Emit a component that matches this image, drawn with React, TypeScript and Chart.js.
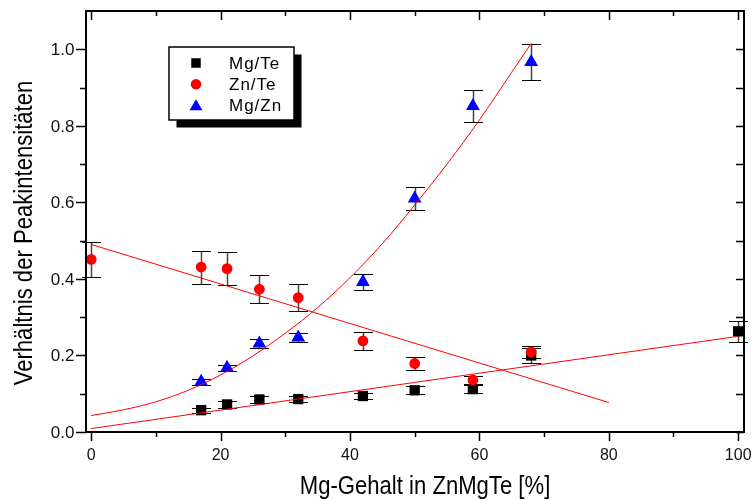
import React, { useEffect, useRef } from "react";
import { Chart, registerables } from "chart.js";

Chart.register(...registerables);

// ---- data ----
const mgTeX = [17, 21, 26, 32, 42, 50, 59, 68, 100];
const mgTeY = [0.057, 0.072, 0.085, 0.086, 0.094, 0.109, 0.112, 0.2, 0.263];
const mgTeErr = [0.007, 0.008, 0.01, 0.008, 0.008, 0.011, 0.01, 0.02, 0.027];

const znTeX = [0, 17, 21, 26, 32, 42, 50, 59, 68];
const znTeY = [0.451, 0.431, 0.427, 0.373, 0.351, 0.238, 0.179, 0.136, 0.209];
const znTeErr = [0.045, 0.043, 0.043, 0.037, 0.035, 0.024, 0.018, 0.01, 0.016];

const mgZnX = [17, 21, 26, 32, 42, 50, 59, 68];
const mgZnY = [0.131, 0.168, 0.231, 0.247, 0.392, 0.61, 0.852, 0.967];
const mgZnErr = [0.007, 0.008, 0.012, 0.012, 0.02, 0.031, 0.042, 0.048];

const fitMgTeX = [0, 100];
const fitMgTeY = [0.009, 0.25];
const fitZnTeX = [0, 80];
const fitZnTeY = [0.49, 0.077];
const fitMgZnX = [0, 5, 10, 15, 20, 25, 30, 35, 40, 45, 50, 55, 60, 65, 68];
const fitMgZnY = [0.043, 0.058, 0.079, 0.109, 0.149, 0.199, 0.258, 0.325, 0.403, 0.492, 0.593, 0.7, 0.815, 0.94, 1.015];

const seriesLabels = ["Mg/Te", "Zn/Te", "Mg/Zn"];
const seriesColors = ["#000000", "#ff0000", "#0000ff"];

const xMajor = [0, 20, 40, 60, 80, 100];
const xMinor = [10, 30, 50, 70, 90];
const xTickLabels = ["0", "20", "40", "60", "80", "100"];
const yMajor = [0, 0.2, 0.4, 0.6, 0.8, 1.0];
const yMinor = [0.1, 0.3, 0.5, 0.7, 0.9];
const yTickLabels = ["0.0", "0.2", "0.4", "0.6", "0.8", "1.0"];

const xTitle = "Mg-Gehalt in ZnMgTe [%]";
const yTitle = "Verhältnis der Peakintensitäten";

const pts = (xs: number[], ys: number[]) => xs.map((x, i) => ({ x, y: ys[i] }));

function drawSymbol(ctx: CanvasRenderingContext2D, kind: number, cx: number, cy: number, s: number) {
  ctx.fillStyle = seriesColors[kind];
  ctx.beginPath();
  if (kind === 0) {
    ctx.rect(cx - s / 2, cy - s / 2, s, s);
  } else if (kind === 1) {
    ctx.arc(cx, cy, s / 2, 0, Math.PI * 2);
  } else {
    const h = s * 0.866;
    ctx.moveTo(cx, cy - h / 2 - 0.5);
    ctx.lineTo(cx + s / 2 + 0.5, cy + h / 2);
    ctx.lineTo(cx - s / 2 - 0.5, cy + h / 2);
    ctx.closePath();
  }
  ctx.fill();
}

const framePlugin = {
  id: "originFrame",
  beforeDatasetsDraw(chart: any) {
    const { ctx, scales } = chart;
    const x = scales.x;
    const y = scales.y;
    const series: [number[], number[], number[]][] = [
      [mgTeX, mgTeY, mgTeErr],
      [znTeX, znTeY, znTeErr],
      [mgZnX, mgZnY, mgZnErr],
    ];
    ctx.save();
    for (const [xs, ys, es] of series) {
      xs.forEach((xv, i) => {
        const px = Math.round(x.getPixelForValue(xv)) + 0.5;
        const top = Math.round(y.getPixelForValue(ys[i] + es[i])) + 0.5;
        const bot = Math.round(y.getPixelForValue(ys[i] - es[i])) + 0.5;
        ctx.strokeStyle = "#444";
        ctx.lineWidth = 1.5;
        ctx.beginPath();
        ctx.moveTo(px, top);
        ctx.lineTo(px, bot);
        ctx.stroke();
        ctx.strokeStyle = "#000";
        ctx.lineWidth = 1.2;
        ctx.beginPath();
        ctx.moveTo(px - 9.5, top);
        ctx.lineTo(px + 9.5, top);
        ctx.moveTo(px - 9.5, bot);
        ctx.lineTo(px + 9.5, bot);
        ctx.stroke();
      });
    }
    ctx.restore();
  },
  afterDraw(chart: any) {
    const { ctx, chartArea, scales } = chart;
    const x = scales.x;
    const y = scales.y;
    const { left, right, top, bottom } = chartArea;
    ctx.save();
    // frame
    ctx.strokeStyle = "#000";
    ctx.lineWidth = 2;
    ctx.strokeRect(left, top, right - left, bottom - top);
    // ticks
    ctx.lineWidth = 1.5;
    ctx.beginPath();
    const xt = (vals: number[], len: number) => {
      vals.forEach((v) => {
        const px = Math.round(x.getPixelForValue(v)) + 0.5;
        ctx.moveTo(px, bottom);
        ctx.lineTo(px, bottom + len);
        ctx.moveTo(px, top);
        ctx.lineTo(px, top + len);
      });
    };
    xt(xMajor, 9);
    xt(xMinor, 5);
    const yt = (vals: number[], len: number) => {
      vals.forEach((v) => {
        const py = Math.round(y.getPixelForValue(v)) + 0.5;
        ctx.moveTo(left, py);
        ctx.lineTo(left - len, py);
        ctx.moveTo(right, py);
        ctx.lineTo(right - 8, py);
      });
    };
    yt(yMajor, 10);
    yt(yMinor, 6);
    ctx.stroke();

    // tick labels
    ctx.fillStyle = "#111";
    ctx.font = '16px "Liberation Sans", Arial, sans-serif';
    ctx.textAlign = "center";
    ctx.textBaseline = "alphabetic";
    xMajor.forEach((v, i) => {
      ctx.fillText(xTickLabels[i], x.getPixelForValue(v), bottom + 27.5);
    });
    ctx.font = '17px "Liberation Sans", Arial, sans-serif';
    ctx.textAlign = "right";
    yMajor.forEach((v, i) => {
      ctx.fillText(yTickLabels[i], left - 11.5, y.getPixelForValue(v) + 6);
    });

    // axis titles (narrow)
    ctx.fillStyle = "#000";
    ctx.font = '26px "Liberation Sans", Arial, sans-serif';
    ctx.textAlign = "center";
    ctx.save();
    ctx.translate(425, 494);
    ctx.scale(0.85, 1);
    ctx.fillText(xTitle, 0, 0);
    ctx.restore();
    ctx.save();
    ctx.translate(31.5, 233);
    ctx.rotate(-Math.PI / 2);
    ctx.scale(0.85, 1);
    ctx.fillText(yTitle, 0, 0);
    ctx.restore();

    // legend
    const bx = 169, by = 47, bw = 125, bh = 73, off = 7.5;
    ctx.fillStyle = "#000";
    ctx.fillRect(bx + off, by + off, bw, bh);
    ctx.fillStyle = "#fff";
    ctx.fillRect(bx, by, bw, bh);
    ctx.strokeStyle = "#000";
    ctx.lineWidth = 1.5;
    ctx.strokeRect(bx, by, bw, bh);
    const rows = [63, 84.3, 105];
    const sizes = [9.5, 10.5, 12];
    ctx.font = '17px "Liberation Sans", Arial, sans-serif';
    (ctx as any).letterSpacing = "1px";
    ctx.textAlign = "left";
    rows.forEach((ry, i) => {
      drawSymbol(ctx, i, 196, ry, sizes[i]);
      ctx.fillStyle = "#000";
      ctx.fillText(seriesLabels[i], 229, ry + 6);
    });
    (ctx as any).letterSpacing = "0px";
    ctx.restore();
  },
};

export default function App() {
  const ref = useRef<HTMLCanvasElement | null>(null);
  useEffect(() => {
    if (!ref.current) return;
    const lineDs = (label: string, xs: number[], ys: number[], cubic: boolean) => ({
      type: "line" as const,
      label,
      data: pts(xs, ys),
      borderColor: "#ff0000",
      borderWidth: 1,
      pointRadius: 0,
      fill: false,
      showLine: true,
      cubicInterpolationMode: cubic ? ("monotone" as const) : ("default" as const),
      tension: 0,
    });
    const chart = new Chart(ref.current, {
      type: "scatter",
      data: {
        datasets: [
          lineDs("fit Mg/Zn", fitMgZnX, fitMgZnY, true),
          lineDs("fit Zn/Te", fitZnTeX, fitZnTeY, false),
          lineDs("fit Mg/Te", fitMgTeX, fitMgTeY, false),
          {
            label: seriesLabels[2],
            data: pts(mgZnX, mgZnY),
            pointStyle: "triangle",
            pointRadius: 8,
            backgroundColor: seriesColors[2],
            borderColor: seriesColors[2],
            borderWidth: 0,
          },
          {
            label: seriesLabels[1],
            data: pts(znTeX, znTeY),
            pointStyle: "circle",
            pointRadius: 5.4,
            backgroundColor: seriesColors[1],
            borderColor: seriesColors[1],
            borderWidth: 0,
          },
          {
            label: seriesLabels[0],
            data: pts(mgTeX, mgTeY),
            pointStyle: "rect",
            pointRadius: 7.3,
            backgroundColor: seriesColors[0],
            borderColor: seriesColors[0],
            borderWidth: 0,
          },
        ] as any,
      },
      options: {
        animation: false,
        responsive: false,
        devicePixelRatio: 1,
        layout: { padding: { top: 11, right: 8, left: 0, bottom: 0 } },
        plugins: { legend: { display: false }, tooltip: { enabled: false } },
        events: [],
        scales: {
          x: {
            type: "linear",
            min: -0.8,
            max: 100.9,
            ticks: { display: false },
            grid: { display: false },
            border: { display: false },
            afterFit: (s: any) => {
              s.height = 68;
            },
          },
          y: {
            type: "linear",
            min: 0,
            max: 1.1,
            ticks: { display: false },
            grid: { display: false },
            border: { display: false },
            afterFit: (s: any) => {
              s.width = 86;
            },
          },
        },
      } as any,
      plugins: [framePlugin],
    });
    return () => chart.destroy();
  }, []);
  return (
    <div style={{ position: "absolute", left: 0, top: 0, width: 752, height: 500, background: "#fff" }}>
      <canvas ref={ref} width={752} height={500} style={{ display: "block" }} />
    </div>
  );
}
